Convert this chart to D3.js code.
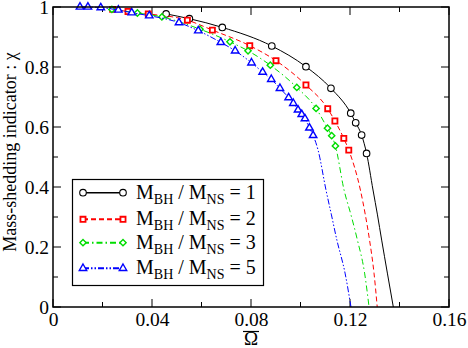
<!DOCTYPE html>
<html><head><meta charset="utf-8">
<script src="https://cdn.jsdelivr.net/npm/d3@7"></script>
<style>body{margin:0;background:#fff}svg{display:block}text{font-family:"Liberation Serif","DejaVu Serif",serif;fill:#000}</style>
</head><body><svg id="c" width="468" height="348"></svg>
<script>
// ---- data ----
const ratios = ["1", "2", "3", "5"];
const xTicks = [0, 0.04, 0.08, 0.12, 0.16];
const xTickLabels = ["0", "0.04", "0.08", "0.12", "0.16"];
const yTicks = [0, 0.2, 0.4, 0.6, 0.8, 1];
const yTickLabels = ["0", "0.2", "0.4", "0.6", "0.8", "1"];

// series markers (Omega-bar, chi)
const om1 = [0.0457, 0.0551, 0.0684, 0.0884, 0.1022, 0.1123, 0.1203, 0.1223, 0.1247, 0.1267];
const chi1 = [0.977, 0.961, 0.932, 0.870, 0.801, 0.729, 0.646, 0.614, 0.573, 0.512];
const om2 = [0.0241, 0.0303, 0.0385, 0.0543, 0.0644, 0.0795, 0.0901, 0.1022, 0.1110, 0.1139, 0.1175, 0.1195];
const chi2 = [0.992, 0.985, 0.977, 0.956, 0.923, 0.871, 0.821, 0.740, 0.661, 0.620, 0.562, 0.523];
const om3 = [0.0238, 0.0341, 0.0440, 0.0594, 0.0715, 0.0788, 0.0878, 0.0985, 0.1063, 0.1109, 0.1126, 0.1141];
const chi3 = [0.992, 0.980, 0.967, 0.926, 0.884, 0.854, 0.806, 0.732, 0.662, 0.596, 0.571, 0.537];
const om5 = [0.0109, 0.0141, 0.0193, 0.0264, 0.0318, 0.0389, 0.0509, 0.0587, 0.0678, 0.0736, 0.0802, 0.0847, 0.0882, 0.0917, 0.0952, 0.0971, 0.0990, 0.1005, 0.1018, 0.1036, 0.1051];
const chi5 = [1.0, 1.0, 0.998, 0.990, 0.981, 0.971, 0.948, 0.921, 0.882, 0.854, 0.814, 0.783, 0.759, 0.729, 0.698, 0.679, 0.657, 0.642, 0.628, 0.597, 0.572];

// extrapolated tails (no markers)
const om1Tail = [0.1293, 0.1311, 0.1328, 0.1351, 0.1375];
const chi1Tail = [0.39, 0.307, 0.223, 0.113, 0];
const om2Tail = [0.1242, 0.1262, 0.1279, 0.1297, 0.1310];
const chi2Tail = [0.39, 0.307, 0.223, 0.113, 0];
const om3Tail = [0.1176, 0.1204, 0.1230, 0.1259, 0.1277];
const chi3Tail = [0.39, 0.307, 0.223, 0.113, 0];
const om5Tail = [0.1071, 0.1103, 0.1125, 0.1147, 0.1180, 0.1204];
const chi5Tail = [0.523, 0.39, 0.307, 0.223, 0.113, 0];

// ---- drawing ----
const svg = d3.select("#c");
const L = 53, R = 449, T = 7, B = 307;
const x = d3.scaleLinear().domain([0, 0.16]).range([L, R]);
const y = d3.scaleLinear().domain([0, 1]).range([B, T]);

const zip = (a, b) => a.map((v, i) => [v, b[i]]);
const series = [
  {r: ratios[0], m: zip(om1, chi1), t: zip(om1Tail, chi1Tail), color: "#000000", dash: null, sym: "circle"},
  {r: ratios[1], m: zip(om2, chi2), t: zip(om2Tail, chi2Tail), color: "#ff0000", dash: "5,3", sym: "square"},
  {r: ratios[2], m: zip(om3, chi3), t: zip(om3Tail, chi3Tail), color: "#00dd00", dash: "6,3,1.5,3", sym: "diamond"},
  {r: ratios[3], m: zip(om5, chi5), t: zip(om5Tail, chi5Tail), color: "#0000ff", dash: "6,2,1.5,2,1.5,2", sym: "triangle"}
];

// axes (ticks inside, mirrored)
const minorX = d3.range(0, 0.1601, 0.02);
const minorY = d3.range(0, 1.001, 0.1);
const axG = svg.append("g");
function tick(x1, y1, x2, y2) {
  axG.append("line").attr("x1", x1).attr("y1", y1).attr("x2", x2).attr("y2", y2)
    .attr("stroke", "#000").attr("stroke-width", 1);
}
minorX.forEach(v => {
  const isMaj = xTicks.some(t => Math.abs(t - v) < 1e-9);
  const len = isMaj ? 8 : 5;
  tick(x(v), B, x(v), B - len);
  tick(x(v), T, x(v), T + len);
});
minorY.forEach(v => {
  const isMaj = yTicks.some(t => Math.abs(t - v) < 1e-9);
  const len = isMaj ? 8 : 5;
  tick(L, y(v), L + len, y(v));
  tick(R, y(v), R - len, y(v));
});

// use d3 axes for labels
const xAxis = d3.axisBottom(x).tickValues(xTicks).tickFormat((d, i) => xTickLabels[i]).tickSize(0).tickPadding(0);
const gx = svg.append("g").attr("transform", `translate(0,${B})`).call(xAxis);
gx.select(".domain").remove();
gx.selectAll("text").attr("font-size", 19.5).attr("font-family", "Liberation Serif").attr("dy", null).attr("y", 19);

const yAxis = d3.axisLeft(y).tickValues(yTicks).tickFormat((d, i) => yTickLabels[i]).tickSize(0).tickPadding(0);
const gy = svg.append("g").attr("transform", `translate(${L - 4},0)`).call(yAxis);
gy.select(".domain").remove();
gy.selectAll("text").attr("font-size", 19.5).attr("font-family", "Liberation Serif").attr("dy", "0.34em");

// series
const line = d3.line().x(d => x(d[0])).y(d => y(d[1])).curve(d3.curveMonotoneX);
const symType = {circle: d3.symbolCircle, square: d3.symbolSquare, diamond: d3.symbolSquare, triangle: d3.symbolTriangle};
const symSize = {circle: 34, square: 26, diamond: 20, triangle: 24};
function drawMarker(g, s, px, py) {
  g.append("path")
    .attr("d", d3.symbol().type(symType[s.sym]).size(symSize[s.sym])())
    .attr("transform", `translate(${px},${py})` + (s.sym === "diamond" ? " rotate(45)" : ""))
    .attr("fill", "#fff").attr("stroke", s.color)
    .attr("stroke-width", s.sym === "square" ? 1.8 : (s.sym === "circle" ? 1.1 : 1.4));
}
series.forEach(s => {
  const g = svg.append("g");
  g.append("path").attr("d", line(s.m.concat(s.t))).attr("fill", "none")
    .attr("stroke", s.color).attr("stroke-width", 1).attr("stroke-dasharray", s.dash);
  s.m.forEach(d => drawMarker(g, s, x(d[0]), y(d[1])));
});

// frame
svg.append("rect").attr("x", L).attr("y", T).attr("width", R - L).attr("height", B - T)
  .attr("fill", "none").attr("stroke", "#000").attr("stroke-width", 1.5);

// legend
const lg = svg.append("g");
lg.append("rect").attr("x", 72.5).attr("y", 179.5).attr("width", 191).attr("height", 106)
  .attr("fill", "#fff").attr("stroke", "#000").attr("stroke-width", 1.2);
const rowY = [192.7, 219.3, 242.7, 268.3];
series.forEach((s, i) => {
  const yy = rowY[i];
  lg.append("line").attr("x1", 83).attr("x2", 123).attr("y1", yy).attr("y2", yy)
    .attr("stroke", s.color).attr("stroke-width", s.sym === "circle" ? 1.5 : 2).attr("stroke-dasharray", s.dash);
  drawMarker(lg, s, 83, yy);
  drawMarker(lg, s, 123, yy);
  const t = lg.append("text").attr("x", 136).attr("y", yy + 6).attr("font-size", 20);
  t.append("tspan").text("M");
  t.append("tspan").attr("font-size", 14).attr("dy", 5).text("BH");
  t.append("tspan").attr("dy", -5).text(" / M");
  t.append("tspan").attr("font-size", 14).attr("dy", 5).text("NS");
  t.append("tspan").attr("dy", -5).text(" = " + s.r);
});

// axis titles
svg.append("text").attr("transform", "translate(16,152) rotate(-90)").attr("text-anchor", "middle")
  .attr("font-size", 18).text("Mass-shedding indicator : \u03c7");
svg.append("text").attr("x", x(0.08)).attr("y", 345).attr("text-anchor", "middle")
  .attr("font-size", 19).text("\u03a9");
svg.append("line").attr("x1", x(0.08) - 8).attr("x2", x(0.08) + 8).attr("y1", 331.5).attr("y2", 331.5)
  .attr("stroke", "#000").attr("stroke-width", 1.2);
</script></body></html>
